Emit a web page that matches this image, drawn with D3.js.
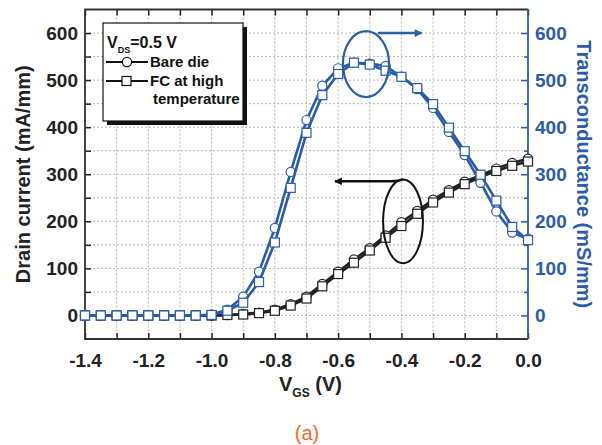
<!DOCTYPE html>
<html>
<head>
<meta charset="utf-8">
<script src="https://cdn.jsdelivr.net/npm/d3@7"></script>
<style>
  body { margin: 0; background: #fff; }
  text { font-family: "Liberation Sans", Arial, Helvetica, sans-serif; }
</style>
</head>
<body>
<svg width="602" height="445"></svg>
<script>
var svg = d3.select("svg"),
    width = +svg.attr("width"),
    height = +svg.attr("height");

var blue = "#2a5caa";

// gate voltage, every 0.05 V
var vgs = [-1.4, -1.35, -1.3, -1.25, -1.2, -1.15, -1.1, -1.05, -1.0, -0.95,
           -0.9, -0.85, -0.8, -0.75, -0.7, -0.65, -0.6, -0.55, -0.5, -0.45,
           -0.4, -0.35, -0.3, -0.25, -0.2, -0.15, -0.1, -0.05, 0.0];

// drain current (mA/mm)
var idBare = [0, 0, 0, 0, 0, 0, 0, 0, 0, 1,
              3, 6, 12, 24, 40, 67, 93, 119, 143, 170,
              198, 222, 246, 266, 284, 298, 312, 324, 333];
var idFC   = [0, 0, 0, 0, 0, 0, 0, 0, 0, 1,
              2, 5, 10, 21, 36, 62, 88, 112, 138, 165,
              190, 216, 240, 261, 279, 294, 307, 318, 327];

// transconductance (mS/mm)
var gmBare = [0, 0, 0, 0, 0, 0, 0, 0, 2, 12,
              40, 93, 186, 305, 415, 488, 525, 537, 535, 530,
              507, 481, 441, 390, 341, 282, 221, 176, 163];
var gmFC   = [0, 0, 0, 0, 0, 0, 0, 0, 1, 10,
              27, 71, 155, 271, 388, 468, 513, 537, 533, 520,
              507, 483, 449, 399, 349, 299, 244, 188, 160];

var xTicks = [-1.4, -1.2, -1.0, -0.8, -0.6, -0.4, -0.2, 0.0];
var yTicks = [0, 100, 200, 300, 400, 500, 600];

var x = d3.scaleLinear().domain([-1.4, 0]).range([85, 528]);
var y = d3.scaleLinear().domain([-50, 650]).range([339, 9.5]);   // left axis
var y2 = d3.scaleLinear().domain([-50, 650]).range([339, 9.5]);  // right axis

// grid
var grid = svg.append("g")
    .attr("stroke", "#b8b8b8")
    .attr("stroke-width", 1)
    .attr("stroke-dasharray", "2,2");

grid.selectAll("line.v")
    .data(d3.range(-13, 0).map(function (i) { return i / 10; }))
    .enter().append("line")
    .attr("x1", function (d) { return x(d); })
    .attr("x2", function (d) { return x(d); })
    .attr("y1", y(650))
    .attr("y2", y(-50));

grid.selectAll("line.h")
    .data(d3.range(0, 13).map(function (i) { return i * 50; }))
    .enter().append("line")
    .attr("y1", function (d) { return y(d); })
    .attr("y2", function (d) { return y(d); })
    .attr("x1", x(-1.4))
    .attr("x2", x(0));

// axes (inward ticks)
var tickFont = function (g) {
    g.selectAll("text")
        .attr("font-size", 19)
        .attr("font-weight", "bold");
    g.select(".domain").remove();
};

var minorX = d3.range(-14, 1).map(function (i) { return i / 10; });
var minorY = d3.range(0, 13).map(function (i) { return i * 50; });

svg.append("g")
    .attr("transform", "translate(0," + y(-50) + ")")
    .call(d3.axisBottom(x).tickValues(minorX).tickSize(-6).tickFormat(""))
    .call(function (g) { g.select(".domain").remove(); g.selectAll("line").attr("stroke", "#222").attr("stroke-width", 1.5); });

svg.append("g")
    .attr("transform", "translate(0," + y(-50) + ")")
    .call(d3.axisBottom(x).tickValues(xTicks).tickSize(0).tickPadding(10)
        .tickFormat(function (d) { return d3.format(".1f")(d).replace("−", "-"); }))
    .call(tickFont)
    .call(function (g) { g.selectAll("text").attr("fill", "#222").attr("dy", "0.95em"); });

svg.append("g")
    .attr("transform", "translate(0," + y(650) + ")")
    .call(d3.axisTop(x).tickValues(minorX).tickSize(-6).tickFormat(""))
    .call(function (g) { g.select(".domain").remove(); g.selectAll("line").attr("stroke", "#222").attr("stroke-width", 1.5); });

svg.append("g")
    .attr("transform", "translate(" + x(-1.4) + ",0)")
    .call(d3.axisLeft(y).tickValues(minorY).tickSize(-6).tickFormat(""))
    .call(function (g) { g.select(".domain").remove(); g.selectAll("line").attr("stroke", "#222").attr("stroke-width", 1.5); });

svg.append("g")
    .attr("transform", "translate(" + x(-1.4) + ",0)")
    .call(d3.axisLeft(y).tickValues(yTicks).tickSize(0).tickPadding(7))
    .call(tickFont)
    .call(function (g) { g.selectAll("text").attr("fill", "#222"); });

svg.append("g")
    .attr("transform", "translate(" + x(0) + ",0)")
    .call(d3.axisRight(y2).tickValues(minorY).tickSize(-6).tickFormat(""))
    .call(function (g) {
        g.select(".domain").remove();
        g.selectAll("line").attr("stroke", blue).attr("stroke-width", 1.5)
            .attr("x2", function (d) { return d % 100 === 0 ? -7 : -4; });
    });

svg.append("g")
    .attr("transform", "translate(" + x(0) + ",0)")
    .call(d3.axisRight(y2).tickValues(yTicks).tickSize(0).tickPadding(7))
    .call(tickFont)
    .call(function (g) { g.selectAll("text").attr("fill", blue); });

// frame
svg.append("path")
    .attr("d", "M" + x(0) + "," + y(650) + "H" + x(-1.4) + "V" + y(-50) + "H" + x(0))
    .attr("fill", "none")
    .attr("stroke", "#333")
    .attr("stroke-width", 1.8);
svg.append("line")
    .attr("x1", x(0)).attr("x2", x(0))
    .attr("y1", y(650)).attr("y2", y(-50))
    .attr("stroke", blue)
    .attr("stroke-width", 1.8);

// series
function series(vals, scale, color, shape) {
    var pts = vgs.map(function (v, i) { return [v, vals[i]]; });
    var g = svg.append("g");
    g.append("path")
        .datum(pts)
        .attr("fill", "none")
        .attr("stroke", color)
        .attr("stroke-width", 2.6)
        .attr("d", d3.line()
            .x(function (d) { return x(d[0]); })
            .y(function (d) { return scale(d[1]); }));
    if (shape === "circle") {
        g.selectAll("circle")
            .data(pts)
            .enter().append("circle")
            .attr("cx", function (d) { return x(d[0]); })
            .attr("cy", function (d) { return scale(d[1]); })
            .attr("r", 4.6)
            .attr("fill", "white")
            .attr("stroke", color)
            .attr("stroke-width", 1.2);
    } else {
        g.selectAll("rect")
            .data(pts)
            .enter().append("rect")
            .attr("x", function (d) { return x(d[0]) - 4.5; })
            .attr("y", function (d) { return scale(d[1]) - 4.5; })
            .attr("width", 9)
            .attr("height", 9)
            .attr("fill", "white")
            .attr("stroke", color)
            .attr("stroke-width", 1.2);
    }
}

series(idBare, y, "#222", "circle");
series(idFC, y, "#222", "rect");
series(gmBare, y2, blue, "circle");
series(gmFC, y2, blue, "rect");

// annotations
var defs = svg.append("defs");
function arrowHead(id, color) {
    defs.append("marker")
        .attr("id", id)
        .attr("viewBox", "0 0 10 10")
        .attr("refX", 9).attr("refY", 5)
        .attr("markerWidth", 4.4).attr("markerHeight", 3.2)
        .attr("orient", "auto")
        .append("path")
        .attr("d", "M0,0L10,5L0,10Z")
        .attr("fill", color);
}
arrowHead("ah-blue", blue);
arrowHead("ah-black", "#111");

svg.append("ellipse")
    .attr("cx", x(-0.512)).attr("cy", y2(534))
    .attr("rx", x(-0.512 + 0.073) - x(-0.512))
    .attr("ry", y2(534) - y2(534 + 70))
    .attr("fill", "none").attr("stroke", blue).attr("stroke-width", 2.2);

svg.append("path")
    .attr("d", "M" + x(-0.474) + "," + y2(600) + "H" + x(-0.336))
    .attr("stroke", blue).attr("stroke-width", 2.4)
    .attr("marker-end", "url(#ah-blue)");

svg.append("ellipse")
    .attr("cx", x(-0.395)).attr("cy", y(200))
    .attr("rx", x(-0.395 + 0.063) - x(-0.395))
    .attr("ry", y(200) - y(200 + 89))
    .attr("fill", "none").attr("stroke", "#111").attr("stroke-width", 2);

svg.append("path")
    .attr("d", "M" + x(-0.395) + "," + y(289) + "Q" + x(-0.41) + "," + y(285) + " " + x(-0.43) + "," + y(285) +
        "H" + x(-0.61))
    .attr("fill", "none")
    .attr("stroke", "#111").attr("stroke-width", 2.4)
    .attr("marker-end", "url(#ah-black)");

// legend
var leg = svg.append("g");
leg.append("rect")
    .attr("x", 107).attr("y", 27).attr("width", 140).attr("height", 98)
    .attr("fill", "#111");
leg.append("rect")
    .attr("x", 103).attr("y", 23).attr("width", 140).attr("height", 98)
    .attr("fill", "white").attr("stroke", "#111").attr("stroke-width", 1.2);

var vds = leg.append("text")
    .attr("x", 107).attr("y", 48)
    .attr("font-size", 16).attr("font-weight", "bold").attr("fill", "#111");
vds.append("tspan").text("V");
vds.append("tspan").attr("font-size", 9).attr("dy", 5).text("DS");
vds.append("tspan").attr("dy", -5).text("=0.5 V");

leg.append("line").attr("x1", 106).attr("x2", 148).attr("y1", 62).attr("y2", 62)
    .attr("stroke", "#111").attr("stroke-width", 1.8);
leg.append("circle").attr("cx", 127).attr("cy", 62).attr("r", 4.6)
    .attr("fill", "white").attr("stroke", "#111").attr("stroke-width", 1.2);
leg.append("text").attr("x", 150).attr("y", 67)
    .attr("font-size", 15).attr("font-weight", "bold").attr("fill", "#111")
    .text("Bare die");

leg.append("line").attr("x1", 106).attr("x2", 148).attr("y1", 81).attr("y2", 81)
    .attr("stroke", "#111").attr("stroke-width", 1.8);
leg.append("rect").attr("x", 122).attr("y", 76.5).attr("width", 9).attr("height", 9)
    .attr("fill", "white").attr("stroke", "#111").attr("stroke-width", 1.2);
leg.append("text").attr("x", 150).attr("y", 86)
    .attr("font-size", 15).attr("font-weight", "bold").attr("fill", "#111")
    .text("FC at high");
leg.append("text").attr("x", 153).attr("y", 104)
    .attr("font-size", 15).attr("font-weight", "bold").attr("fill", "#111")
    .text("temperature");

// axis titles
svg.append("text")
    .attr("transform", "translate(30," + y(300) + ") rotate(-90)")
    .attr("text-anchor", "middle")
    .attr("font-size", 20).attr("font-weight", "bold").attr("fill", "#222")
    .text("Drain current (mA/mm)");

svg.append("text")
    .attr("transform", "translate(577," + y2(300) + ") rotate(90)")
    .attr("text-anchor", "middle")
    .attr("font-size", 20).attr("font-weight", "bold").attr("fill", blue)
    .text("Transconductance (mS/mm)");

var xt = svg.append("text")
    .attr("x", 279).attr("y", 391)
    .attr("font-size", 20).attr("font-weight", "bold").attr("fill", "#222");
xt.append("tspan").text("V");
xt.append("tspan").attr("font-size", 12).attr("dy", 6).text("GS");
xt.append("tspan").attr("dy", -6).text(" (V)");

svg.append("text")
    .attr("x", 307).attr("y", 440)
    .attr("text-anchor", "middle")
    .attr("font-size", 20).attr("fill", "#f26b2a")
    .text("(a)");
</script>
</body>
</html>
